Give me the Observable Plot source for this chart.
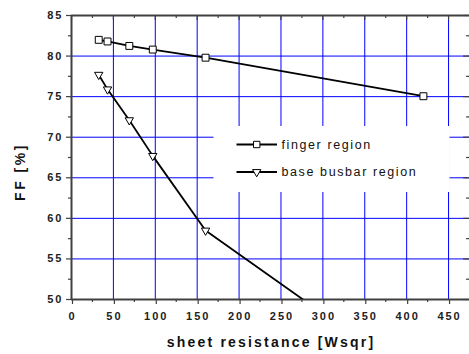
<!DOCTYPE html>
<html>
<head>
<meta charset="utf-8">
<script src="https://cdn.jsdelivr.net/npm/d3@7"></script>
<script src="https://cdn.jsdelivr.net/npm/@observablehq/plot@0.6"></script>
<style>
  html, body { margin: 0; padding: 0; background: #fff; }
  #chart { width: 469px; height: 354px; }
</style>
</head>
<body>
<div id="chart"></div>
<script>
// ---- data ----
const fingerX = [32.5, 43, 69, 97, 160, 420];
const fingerFF = [82.0, 81.8, 81.25, 80.8, 79.8, 75.05];
const busbarX = [32.5, 43, 69, 97, 160, 420];
const busbarFF = [77.7, 75.9, 72.1, 67.7, 58.5, 39.5];
const seriesNames = ["finger region", "base busbar region"];
const xMajor = [0, 50, 100, 150, 200, 250, 300, 350, 400, 450];
const xMinor = [25, 75, 125, 175, 225, 275, 325, 375, 425];
const yMajor = [50, 55, 60, 65, 70, 75, 80, 85];
const yMinor = [52.5, 57.5, 62.5, 67.5, 72.5, 77.5, 82.5];
const xGrid = [50, 100, 150, 200, 250, 300, 350, 400, 450];
const yGrid = [55, 60, 65, 70, 75, 80];
const xTitle = "sheet resistance [Wsqr]";
const yTitle = "FF [%]";

const finger = fingerX.map((x, i) => ({x, y: fingerFF[i]}));
const busbar = busbarX.map((x, i) => ({x, y: busbarFF[i]}));

const W = 469, H = 354, ML = 71, MR = 0, MT = 15, MB = 55;
const PW = W - ML - MR, PH = H - MT - MB;
const axisCol = "#404040";
const gridCol = "#0000ff";
const fontFam = "'Liberation Sans', Arial, sans-serif";

const plot = Plot.plot({
  width: W, height: H,
  marginLeft: ML, marginRight: MR, marginTop: MT, marginBottom: MB,
  x: {domain: [0, 475]},
  y: {domain: [50, 85]},
  style: {fontFamily: fontFam, fontWeight: "bold", fontSize: "11px", letterSpacing: "2px", color: "#222", background: "#fff"},
  marks: [
    Plot.ruleX(xGrid, {x: d => d, stroke: gridCol, strokeWidth: 1}),
    Plot.ruleY(yGrid, {y: d => d, stroke: gridCol, strokeWidth: 1}),
    // top ticks (inward)
    Plot.tickX(xMajor, {x: d => d, insetBottom: PH - 5, stroke: axisCol, strokeWidth: 1.2}),
    Plot.tickX(xMinor, {x: d => d, insetBottom: PH - 3, stroke: axisCol, strokeWidth: 1.2}),
    // right ticks (inward)
    Plot.tickY(yMajor, {y: d => d, insetLeft: PW - 6, stroke: axisCol, strokeWidth: 1.2}),
    Plot.tickY(yMinor, {y: d => d, insetLeft: PW - 3, stroke: axisCol, strokeWidth: 1.2}),
    // frame lines
    Plot.ruleY([85], {stroke: axisCol, strokeWidth: 2}),
    Plot.ruleY([50], {stroke: axisCol, strokeWidth: 2}),
    Plot.ruleX([0], {stroke: axisCol, strokeWidth: 2}),
    // axes
    Plot.axisY(yMajor, {tickSize: 5, tickPadding: 3, stroke: axisCol, strokeWidth: 1.2, label: null, fill: "#222"}),
    Plot.axisY(yMinor, {tickSize: 3, tickFormat: () => "", stroke: axisCol, strokeWidth: 1.2, label: null}),
    Plot.axisX(xMajor, {tickSize: 5, tickPadding: 8, stroke: axisCol, strokeWidth: 1.2, label: null, fill: "#222", dx: 1}),
    Plot.axisX(xMinor, {tickSize: 3, tickFormat: () => "", stroke: axisCol, strokeWidth: 1.2, label: null}),
    // data
    Plot.line(finger, {x: "x", y: "y", stroke: "black", strokeWidth: 1.8, clip: true}),
    Plot.line(busbar, {x: "x", y: "y", stroke: "black", strokeWidth: 1.8, clip: true}),
    Plot.dot(finger, {x: "x", y: "y", symbol: "square", r: 3.9, fill: "white", stroke: "black", strokeWidth: 1, clip: true}),
    Plot.dot(busbar, {x: "x", y: "y", symbol: "triangle", rotate: 180, r: 3.1, fill: "white", stroke: "black", strokeWidth: 1, clip: true})
  ]
});

const svg = d3.select(plot);

// ---- axis titles ----
svg.append("text").attr("x", 271).attr("y", 347).attr("text-anchor", "middle")
  .attr("font-size", 14).attr("font-weight", "bold").attr("letter-spacing", "2.2px")
  .attr("fill", "#111").text(xTitle);
svg.append("text").attr("transform", "translate(25,172) rotate(-90)").attr("text-anchor", "middle")
  .attr("font-size", 14).attr("font-weight", "bold").attr("letter-spacing", "2.5px")
  .attr("fill", "#111").text(yTitle);

// ---- legend (box hides the grid behind it) ----
const lg = svg.append("g");
lg.append("rect").attr("x", 213.5).attr("y", 126).attr("width", 236).attr("height", 66).attr("fill", "white");
const rows = [
  {name: seriesNames[0], cy: 144.5, base: 149, sym: d3.symbolSquare, size: Math.PI * 3.6 * 3.6, rot: 0},
  {name: seriesNames[1], cy: 172, base: 176, sym: d3.symbolTriangle, size: Math.PI * 3.1 * 3.1, rot: 180}
];
for (const r of rows) {
  lg.append("line").attr("x1", 236.5).attr("x2", 277).attr("y1", r.cy).attr("y2", r.cy)
    .attr("stroke", "black").attr("stroke-width", 1.8);
  lg.append("path").attr("d", d3.symbol(r.sym, r.size)())
    .attr("transform", `translate(256.7,${r.cy}) rotate(${r.rot})`)
    .attr("fill", "white").attr("stroke", "black").attr("stroke-width", 1);
  lg.append("text").attr("x", 281.5).attr("y", r.base).attr("text-anchor", "start").text(r.name)
    .attr("font-size", 12.5).attr("font-weight", "normal").attr("letter-spacing", "1.6px").attr("fill", "#111");
}

document.getElementById("chart").appendChild(plot);
</script>
</body>
</html>
